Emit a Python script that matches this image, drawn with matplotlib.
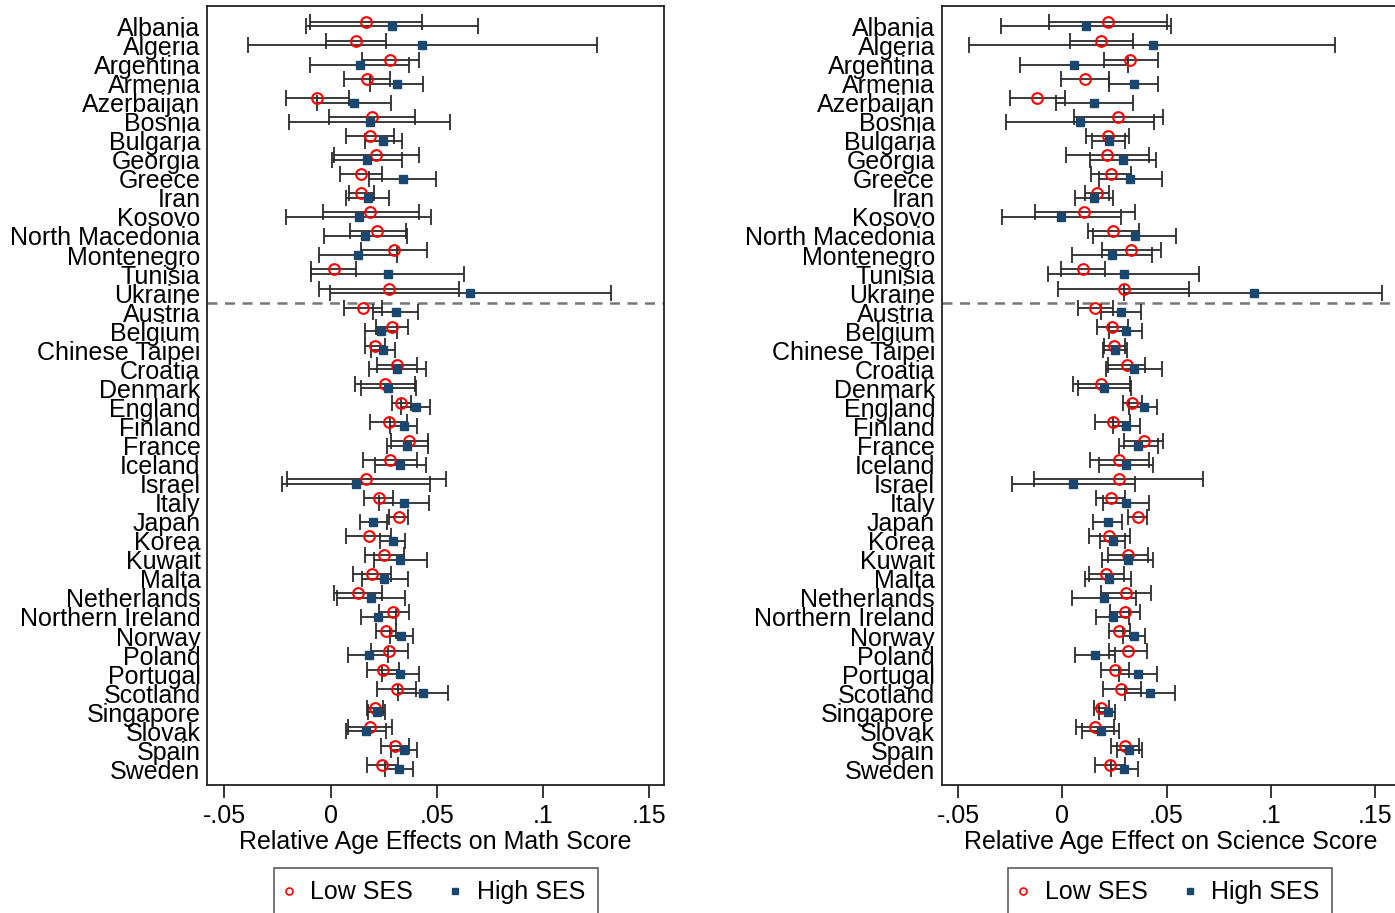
import numpy as np
import matplotlib
matplotlib.use('Agg')
import matplotlib.pyplot as plt
from matplotlib.lines import Line2D

plt.rcParams['font.family'] = ['Liberation Sans', 'DejaVu Sans']

# 国家列表 (从上到下)
countries = ['Albania', 'Algeria', 'Argentina', 'Armenia', 'Azerbaijan', 'Bosnia',
             'Bulgaria', 'Georgia', 'Greece', 'Iran', 'Kosovo', 'North Macedonia',
             'Montenegro', 'Tunisia', 'Ukraine', 'Austria', 'Belgium', 'Chinese Taipei',
             'Croatia', 'Denmark', 'England', 'Finland', 'France', 'Iceland', 'Israel',
             'Italy', 'Japan', 'Korea', 'Kuwait', 'Malta', 'Netherlands',
             'Northern Ireland', 'Norway', 'Poland', 'Portugal', 'Scotland',
             'Singapore', 'Slovak', 'Spain', 'Sweden']

# 数学成绩 - 低SES: 估计值, 下限, 上限
math_low = [0.0167, 0.0118, 0.0281, 0.0173, -0.0063, 0.0193, 0.0185, 0.0214, 0.0143, 0.0144,
            0.0188, 0.0221, 0.0297, 0.0015, 0.0276, 0.0154, 0.0291, 0.0211, 0.0313, 0.0257,
            0.0333, 0.0273, 0.0371, 0.0280, 0.0168, 0.0226, 0.0320, 0.0179, 0.0254, 0.0193,
            0.0129, 0.0296, 0.0259, 0.0276, 0.0245, 0.0313, 0.0209, 0.0187, 0.0303, 0.0243]
math_low_lo = [-0.0096, -0.0021, 0.0150, 0.0064, -0.0208, -0.0008, 0.0075, 0.0014, 0.0046, 0.0088,
               -0.0038, 0.0093, 0.0141, -0.0090, -0.0054, 0.0064, 0.0215, 0.0162, 0.0218, 0.0116,
               0.0288, 0.0185, 0.0283, 0.0152, -0.0203, 0.0156, 0.0276, 0.0072, 0.0162, 0.0104,
               0.0015, 0.0226, 0.0212, 0.0190, 0.0171, 0.0220, 0.0171, 0.0084, 0.0239, 0.0173]
math_low_hi = [0.0429, 0.0259, 0.0415, 0.0280, 0.0086, 0.0396, 0.0297, 0.0415, 0.0242, 0.0204,
               0.0418, 0.0355, 0.0456, 0.0122, 0.0607, 0.0243, 0.0366, 0.0257, 0.0405, 0.0396,
               0.0380, 0.0358, 0.0457, 0.0407, 0.0544, 0.0294, 0.0363, 0.0286, 0.0347, 0.0283,
               0.0243, 0.0368, 0.0306, 0.0366, 0.0320, 0.0402, 0.0248, 0.0289, 0.0369, 0.0316]
# 数学成绩 - 高SES
math_high = [0.0288, 0.0433, 0.0138, 0.0313, 0.0111, 0.0185, 0.0248, 0.0173, 0.0339, 0.0174,
             0.0133, 0.0162, 0.0128, 0.0269, 0.0657, 0.0308, 0.0237, 0.0248, 0.0314, 0.0271,
             0.0402, 0.0344, 0.0361, 0.0327, 0.0122, 0.0346, 0.0201, 0.0294, 0.0329, 0.0253,
             0.0190, 0.0223, 0.0333, 0.0180, 0.0329, 0.0435, 0.0218, 0.0168, 0.0347, 0.0324]
math_high_lo = [-0.0116, -0.0387, -0.0095, 0.0187, -0.0062, -0.0195, 0.0162, 0.0008, 0.0179, 0.0075,
                -0.0208, -0.0033, -0.0055, -0.0090, -0.0005, 0.0201, 0.0162, 0.0192, 0.0179, 0.0141,
                0.0333, 0.0278, 0.0267, 0.0207, -0.0227, 0.0229, 0.0138, 0.0234, 0.0204, 0.0146,
                0.0028, 0.0141, 0.0280, 0.0084, 0.0242, 0.0317, 0.0176, 0.0075, 0.0286, 0.0257]
math_high_hi = [0.0693, 0.1253, 0.0368, 0.0435, 0.0286, 0.0563, 0.0335, 0.0335, 0.0498, 0.0275,
                0.0474, 0.0358, 0.0313, 0.0627, 0.1319, 0.0413, 0.0313, 0.0305, 0.0450, 0.0402,
                0.0468, 0.0408, 0.0457, 0.0448, 0.0468, 0.0463, 0.0265, 0.0352, 0.0456, 0.0363,
                0.0349, 0.0306, 0.0387, 0.0272, 0.0418, 0.0553, 0.0257, 0.0261, 0.0407, 0.0388]

# 科学成绩 - 低SES
sci_low = [0.0220, 0.0188, 0.0327, 0.0108, -0.0123, 0.0268, 0.0218, 0.0215, 0.0233, 0.0166,
           0.0106, 0.0241, 0.0330, 0.0098, 0.0295, 0.0156, 0.0239, 0.0249, 0.0310, 0.0188,
           0.0335, 0.0241, 0.0390, 0.0271, 0.0271, 0.0233, 0.0361, 0.0226, 0.0313, 0.0212,
           0.0306, 0.0302, 0.0274, 0.0315, 0.0254, 0.0284, 0.0188, 0.0156, 0.0300, 0.0230]
sci_low_lo = [-0.0063, 0.0036, 0.0198, -0.0006, -0.0252, 0.0057, 0.0114, 0.0018, 0.0137, 0.0108,
              -0.0131, 0.0121, 0.0190, -0.0007, -0.0019, 0.0073, 0.0167, 0.0199, 0.0220, 0.0050,
              0.0290, 0.0156, 0.0298, 0.0132, -0.0134, 0.0164, 0.0316, 0.0129, 0.0217, 0.0126,
              0.0188, 0.0231, 0.0226, 0.0226, 0.0185, 0.0194, 0.0150, 0.0065, 0.0234, 0.0159]
sci_low_hi = [0.0503, 0.0340, 0.0460, 0.0225, 0.0011, 0.0481, 0.0322, 0.0414, 0.0332, 0.0225,
              0.0350, 0.0366, 0.0473, 0.0207, 0.0609, 0.0242, 0.0313, 0.0300, 0.0398, 0.0327,
              0.0380, 0.0327, 0.0481, 0.0415, 0.0676, 0.0302, 0.0407, 0.0327, 0.0409, 0.0297,
              0.0425, 0.0375, 0.0326, 0.0407, 0.0321, 0.0377, 0.0226, 0.0249, 0.0366, 0.0300]
# 科学成绩 - 高SES
sci_high = [0.0114, 0.0433, 0.0057, 0.0342, 0.0154, 0.0085, 0.0223, 0.0290, 0.0326, 0.0153,
            -0.0004, 0.0347, 0.0238, 0.0294, 0.0918, 0.0281, 0.0306, 0.0254, 0.0345, 0.0202,
            0.0390, 0.0306, 0.0363, 0.0306, 0.0053, 0.0306, 0.0218, 0.0242, 0.0315, 0.0223,
            0.0199, 0.0241, 0.0342, 0.0159, 0.0361, 0.0420, 0.0217, 0.0185, 0.0321, 0.0297]
sci_high_lo = [-0.0296, -0.0448, -0.0204, 0.0225, -0.0028, -0.0270, 0.0142, 0.0134, 0.0174, 0.0060,
               -0.0287, 0.0148, 0.0047, -0.0071, 0.0298, 0.0185, 0.0223, 0.0194, 0.0209, 0.0075,
               0.0322, 0.0241, 0.0270, 0.0178, -0.0241, 0.0196, 0.0146, 0.0182, 0.0191, 0.0111,
               0.0047, 0.0164, 0.0289, 0.0063, 0.0271, 0.0303, 0.0178, 0.0094, 0.0262, 0.0236]
sci_high_hi = [0.0522, 0.1310, 0.0316, 0.0457, 0.0337, 0.0441, 0.0300, 0.0449, 0.0476, 0.0244,
               0.0281, 0.0545, 0.0431, 0.0656, 0.1536, 0.0379, 0.0383, 0.0310, 0.0476, 0.0330,
               0.0454, 0.0375, 0.0457, 0.0433, 0.0348, 0.0415, 0.0287, 0.0302, 0.0435, 0.0330,
               0.0353, 0.0319, 0.0395, 0.0255, 0.0452, 0.0539, 0.0252, 0.0274, 0.0383, 0.0361]

xticks = [-0.05, 0, 0.05, 0.1, 0.15]
xtick_labels = ['-.05', '0', '.05', '.1', '.15']

FS = 18
RED = '#ff0000'
NAVY = '#1a476f'
BAR = '#2b2b2b'
N_SPLIT = 15  # 前15个国家与其余国家之间画虚线


def panel(ax, low, low_lo, low_hi, high, high_lo, high_hi, xlabel, xlim):
    n = len(countries)
    y = np.arange(n)[::-1].astype(float)
    low = np.array(low)
    high = np.array(high)
    ebar = dict(fmt='none', ecolor=BAR, elinewidth=1.3, capsize=5.5, capthick=1.3, zorder=2)
    ax.errorbar(low, y + 0.24, xerr=[low - np.array(low_lo), np.array(low_hi) - low], **ebar)
    ax.errorbar(high, y, xerr=[high - np.array(high_lo), np.array(high_hi) - high], **ebar)
    ax.plot(low, y + 0.24, 'o', ms=7.7, mfc='none', mec=RED, mew=1.5, zorder=3)
    ax.plot(high, y, 's', ms=6.2, color=NAVY, zorder=3)
    ax.axhline(n - N_SPLIT - 0.5, color='#777777', lw=1.8, ls=(0, (4, 3)), zorder=1)

    ax.set_yticks(y)
    ax.set_yticklabels(countries, fontsize=FS)
    ax.set_ylim(-0.82, n - 1 + 1.07)
    ax.set_xlim(*xlim)
    ax.set_xticks(xticks)
    ax.set_xticklabels(xtick_labels, fontsize=FS)
    ax.tick_params(axis='y', length=0, pad=5)
    ax.tick_params(axis='x', length=9.5, width=1.1, pad=4.5)
    ax.set_xlabel(xlabel, fontsize=FS, labelpad=1)
    for s in ax.spines.values():
        s.set_linewidth(1.3)
        s.set_color('#222222')

    handles = [Line2D([], [], ls='none', marker='o', ms=5, mfc='none', mec=RED, mew=1.2),
               Line2D([], [], ls='none', marker='s', ms=4.8, color=NAVY)]
    leg = ax.legend(handles, ['Low SES', 'High SES'], loc='upper center',
                    bbox_to_anchor=(0.5, -0.1065), ncol=2, fontsize=FS, frameon=True,
                    fancybox=False, borderpad=0.5, handlelength=0.2, handletextpad=0.75,
                    columnspacing=1.6, borderaxespad=0)
    leg.get_frame().set_edgecolor('#333333')
    leg.get_frame().set_linewidth(1.2)


fig = plt.figure(figsize=(13.95, 9.13), dpi=100)
ax1 = fig.add_axes([0.1487, 0.1402, 0.3272, 0.8532])
ax2 = fig.add_axes([0.6753, 0.1402, 0.3272, 0.8532])

panel(ax1, math_low, math_low_lo, math_low_hi, math_high, math_high_lo, math_high_hi,
      'Relative Age Effects on Math Score', (-0.058, 0.157))
panel(ax2, sci_low, sci_low_lo, sci_low_hi, sci_high, sci_high_lo, sci_high_hi,
      'Relative Age Effect on Science Score', (-0.0577, 0.1613))

fig.savefig('out.png', dpi=100)
